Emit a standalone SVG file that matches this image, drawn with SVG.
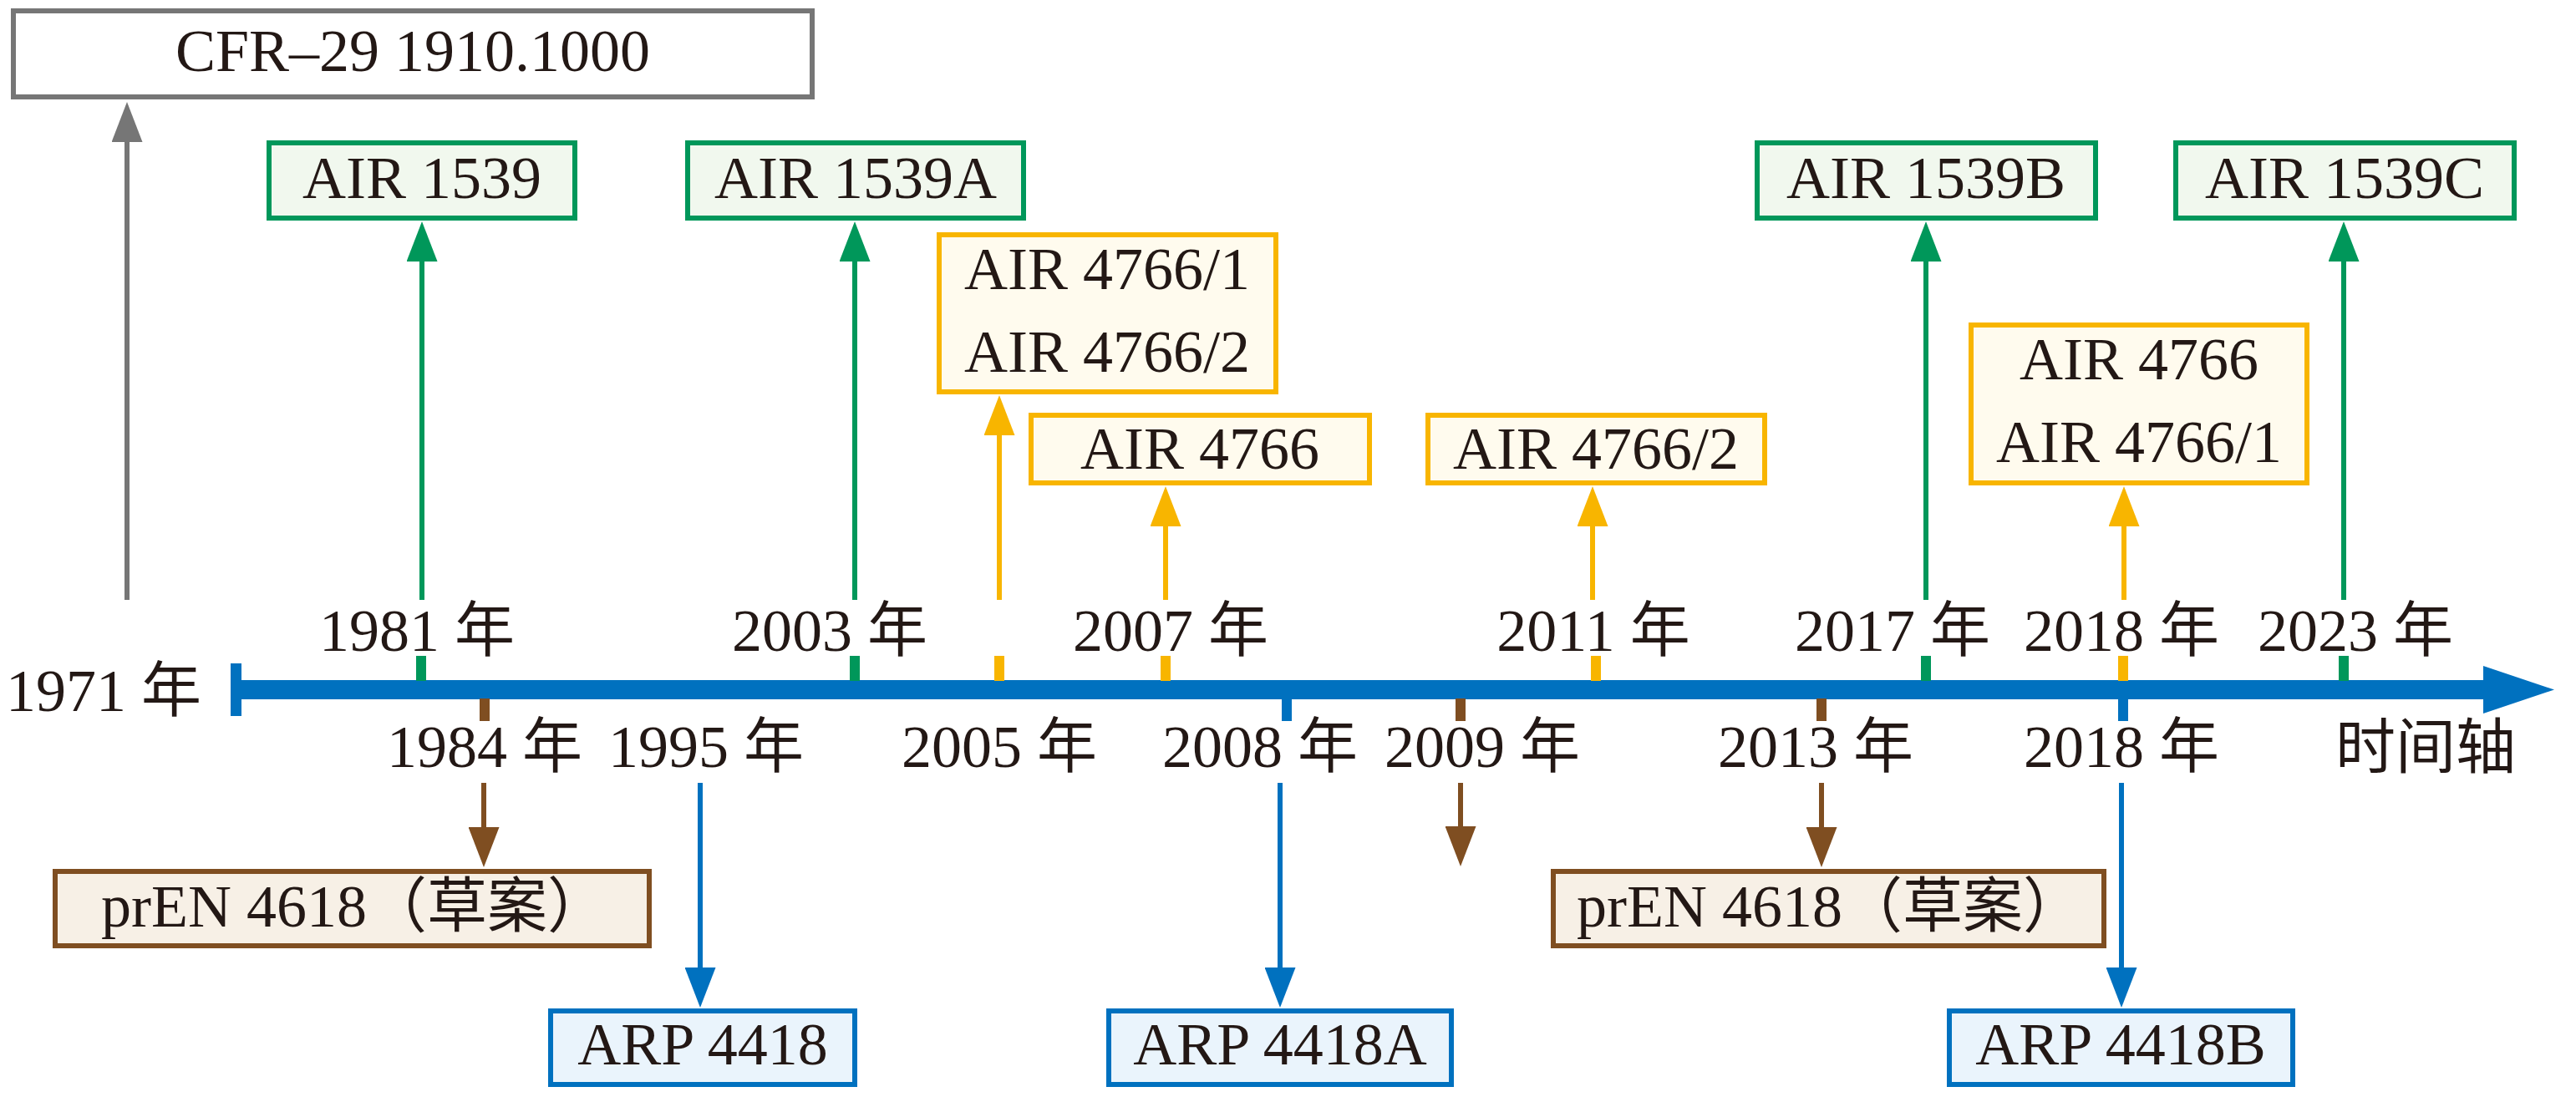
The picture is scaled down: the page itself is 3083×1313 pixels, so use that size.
<svg xmlns="http://www.w3.org/2000/svg" width="3083" height="1313" viewBox="0 0 3083 1313">
<defs>
<style>
text{font-family:"Liberation Serif","Noto Sans CJK SC",serif;font-size:72px;fill:#231815;text-anchor:middle}
.box{stroke-width:6}
.gr{stroke:#767676;fill:#ffffff}
.gn{stroke:#00975A;fill:#F1F8EE}
.ye{stroke:#F8B500;fill:#FFFBEE}
.br{stroke:#7F4E21;fill:#F7F0E6}
.bl{stroke:#0071BF;fill:#EAF4FC}
.ln{stroke-width:6;fill:none}
</style>
<marker id="mgr" viewBox="0 0 48 37" markerWidth="48" markerHeight="37" refX="8" refY="18.5" orient="auto" markerUnits="userSpaceOnUse"><path d="M0,0 L48,18.5 L0,37 z" fill="#767676"/></marker>
<marker id="mgn" viewBox="0 0 48 37" markerWidth="48" markerHeight="37" refX="8" refY="18.5" orient="auto" markerUnits="userSpaceOnUse"><path d="M0,0 L48,18.5 L0,37 z" fill="#00975A"/></marker>
<marker id="mye" viewBox="0 0 48 37" markerWidth="48" markerHeight="37" refX="8" refY="18.5" orient="auto" markerUnits="userSpaceOnUse"><path d="M0,0 L48,18.5 L0,37 z" fill="#F8B500"/></marker>
<marker id="mbr" viewBox="0 0 48 37" markerWidth="48" markerHeight="37" refX="8" refY="18.5" orient="auto" markerUnits="userSpaceOnUse"><path d="M0,0 L48,18.5 L0,37 z" fill="#7F4E21"/></marker>
<marker id="mbl" viewBox="0 0 48 37" markerWidth="48" markerHeight="37" refX="8" refY="18.5" orient="auto" markerUnits="userSpaceOnUse"><path d="M0,0 L48,18.5 L0,37 z" fill="#0071BF"/></marker>
</defs>
<rect width="3083" height="1313" fill="#ffffff"/>

<!-- timeline axis -->
<g id="axis">
<rect x="283" y="814" width="2692" height="23" fill="#0071BF"/>
<rect x="276" y="794" width="13" height="63" fill="#0071BF"/>
<polygon points="2972,797 3057,825.5 2972,854" fill="#0071BF"/>
<g id="ticks">
<rect x="498" y="785" width="12" height="30" fill="#00975A"/>
<rect x="1017" y="785" width="12" height="30" fill="#00975A"/>
<rect x="1190" y="785" width="12" height="30" fill="#F8B500"/>
<rect x="1389" y="785" width="12" height="30" fill="#F8B500"/>
<rect x="1904" y="785" width="12" height="30" fill="#F8B500"/>
<rect x="2299" y="785" width="12" height="30" fill="#00975A"/>
<rect x="2535" y="785" width="12" height="30" fill="#F8B500"/>
<rect x="2799" y="785" width="12" height="30" fill="#00975A"/>
<rect x="574" y="836" width="12" height="27" fill="#7F4E21"/>
<rect x="1534" y="836" width="12" height="27" fill="#0071BF"/>
<rect x="1742" y="836" width="12" height="27" fill="#7F4E21"/>
<rect x="2174" y="836" width="12" height="27" fill="#7F4E21"/>
<rect x="2535" y="836" width="12" height="27" fill="#0071BF"/>
</g>
</g>

<!-- connectors -->
<g id="connectors">
<line class="ln" x1="152" y1="718" x2="152" y2="162" stroke="#767676" marker-end="url(#mgr)"/>
<line class="ln" x1="505" y1="718" x2="505" y2="305" stroke="#00975A" marker-end="url(#mgn)"/>
<line class="ln" x1="1023" y1="718" x2="1023" y2="305" stroke="#00975A" marker-end="url(#mgn)"/>
<line class="ln" x1="1196" y1="718" x2="1196" y2="513" stroke="#F8B500" marker-end="url(#mye)"/>
<line class="ln" x1="1395" y1="718" x2="1395" y2="622" stroke="#F8B500" marker-end="url(#mye)"/>
<line class="ln" x1="1906" y1="718" x2="1906" y2="622" stroke="#F8B500" marker-end="url(#mye)"/>
<line class="ln" x1="2305" y1="718" x2="2305" y2="305" stroke="#00975A" marker-end="url(#mgn)"/>
<line class="ln" x1="2542" y1="718" x2="2542" y2="622" stroke="#F8B500" marker-end="url(#mye)"/>
<line class="ln" x1="2805" y1="718" x2="2805" y2="305" stroke="#00975A" marker-end="url(#mgn)"/>
<line class="ln" x1="579" y1="937" x2="579" y2="998" stroke="#7F4E21" marker-end="url(#mbr)"/>
<line class="ln" x1="838" y1="937" x2="838" y2="1166" stroke="#0071BF" marker-end="url(#mbl)"/>
<line class="ln" x1="1532" y1="937" x2="1532" y2="1166" stroke="#0071BF" marker-end="url(#mbl)"/>
<line class="ln" x1="1748" y1="937" x2="1748" y2="997" stroke="#7F4E21" marker-end="url(#mbr)"/>
<line class="ln" x1="2180" y1="937" x2="2180" y2="998" stroke="#7F4E21" marker-end="url(#mbr)"/>
<line class="ln" x1="2539" y1="937" x2="2539" y2="1166" stroke="#0071BF" marker-end="url(#mbl)"/>
</g>

<!-- year labels -->
<g id="labels">
<text x="124" y="851">1971 年</text>
<text x="499" y="779">1981 年</text>
<text x="993" y="779">2003 年</text>
<text x="1401" y="779">2007 年</text>
<text x="1907" y="779">2011 年</text>
<text x="2265" y="779">2017 年</text>
<text x="2539" y="779">2018 年</text>
<text x="2819" y="779">2023 年</text>
<text x="580" y="918">1984 年</text>
<text x="845" y="918">1995 年</text>
<text x="1196" y="918">2005 年</text>
<text x="1508" y="918">2008 年</text>
<text x="1774" y="918">2009 年</text>
<text x="2173" y="918">2013 年</text>
<text x="2539" y="918">2018 年</text>
<text x="2903" y="919">时间轴</text>
</g>

<!-- nodes -->
<g id="cfr"><rect class="box gr" x="16" y="13" width="956" height="103"/><text x="494" y="85">CFR–29 1910.1000</text></g>
<g id="air1539"><rect class="box gn" x="322" y="171" width="366" height="90"/><text x="505" y="236.5">AIR 1539</text></g>
<g id="air1539a"><rect class="box gn" x="823" y="171" width="402" height="90"/><text x="1024" y="236.5">AIR 1539A</text></g>
<g id="air1539b"><rect class="box gn" x="2103" y="171" width="405" height="90"/><text x="2305" y="236.5">AIR 1539B</text></g>
<g id="air1539c"><rect class="box gn" x="2604" y="171" width="405" height="90"/><text x="2806" y="236.5">AIR 1539C</text></g>
<g id="air4766-12"><rect class="box ye" x="1124" y="281" width="403" height="188"/><text x="1325" y="346">AIR 4766/1</text><text x="1325" y="445">AIR 4766/2</text></g>
<g id="air4766"><rect class="box ye" x="1234" y="497" width="405" height="81"/><text x="1436" y="561">AIR 4766</text></g>
<g id="air4766-2"><rect class="box ye" x="1709" y="497" width="403" height="81"/><text x="1910" y="561">AIR 4766/2</text></g>
<g id="air4766-1"><rect class="box ye" x="2359" y="389" width="402" height="189"/><text x="2560" y="454">AIR 4766</text><text x="2560" y="553">AIR 4766/1</text></g>
<g id="pren1"><rect class="box br" x="66" y="1043" width="711" height="89"/><text x="424" y="1109">prEN 4618（草案）</text></g>
<g id="pren2"><rect class="box br" x="1859" y="1043" width="659" height="89"/><text x="2190" y="1109">prEN 4618（草案）</text></g>
<g id="arp4418"><rect class="box bl" x="659" y="1210" width="364" height="88"/><text x="841" y="1274">ARP 4418</text></g>
<g id="arp4418a"><rect class="box bl" x="1327" y="1210" width="410" height="88"/><text x="1532" y="1274">ARP 4418A</text></g>
<g id="arp4418b"><rect class="box bl" x="2333" y="1210" width="411" height="88"/><text x="2538" y="1274">ARP 4418B</text></g>
</svg>
